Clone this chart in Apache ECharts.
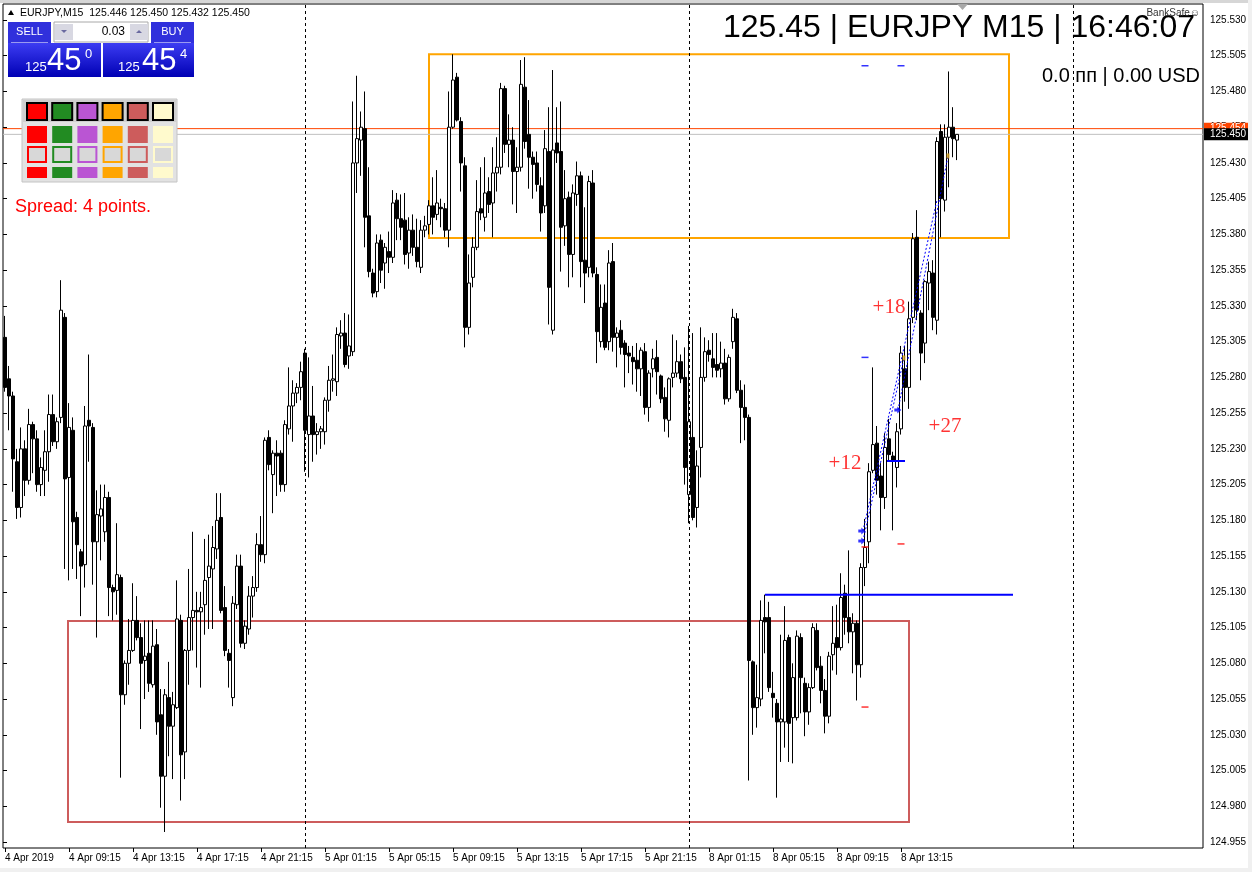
<!DOCTYPE html>
<html>
<head>
<meta charset="utf-8">
<script src="https://cdn.jsdelivr.net/npm/echarts@6/dist/echarts.min.js"></script>
<style>
  html, body { margin: 0; padding: 0; background: #fff; }
  #chart { width: 1252px; height: 872px; }
</style>
</head>
<body>
<div id="chart"></div>
<script>
// EURJPY M15, 4 Apr 05:15 .. 8 Apr 16:45 (239 bars), 10 values per row
const openP = [
  125.308,125.279,125.267,125.221,125.189,125.230,125.208,125.247,125.237,125.205,
  125.215,125.228,125.254,125.235,125.252,125.322,125.210,125.243,125.182,125.158,
  125.149,125.250,125.245,125.165,125.183,125.172,125.196,125.133,125.131,125.140,
  125.058,125.080,125.089,125.110,125.098,125.082,125.087,125.065,125.093,125.044,
  125.001,125.056,125.036,125.049,125.110,125.018,125.089,125.112,125.117,125.116,
  125.121,125.140,125.146,125.160,125.182,125.119,125.087,125.056,125.121,125.148,
  125.094,125.104,125.127,125.133,125.163,125.156,125.238,125.212,125.227,125.227,
  125.205,125.244,125.260,125.269,125.273,125.297,125.240,125.253,125.240,125.242,
  125.242,125.264,125.278,125.277,125.309,125.311,125.295,125.298,125.430,125.446,
  125.454,125.393,125.353,125.340,125.376,125.360,125.368,125.364,125.404,125.391,
  125.390,125.367,125.383,125.371,125.357,125.383,125.387,125.400,125.394,125.399,
  125.398,125.383,125.455,125.490,125.459,125.428,125.315,125.350,125.371,125.398,
  125.392,125.410,125.402,125.423,125.427,125.482,125.443,125.446,125.424,125.427,
  125.483,125.450,125.434,125.430,125.414,125.400,125.438,125.313,125.444,125.438,
  125.386,125.406,125.366,125.408,125.421,125.362,125.357,125.416,125.352,125.305,
  125.332,125.305,125.361,125.308,125.313,125.304,125.297,125.294,125.292,125.286,
  125.298,125.259,125.286,125.294,125.281,125.266,125.250,125.280,125.283,125.291,
  125.280,125.198,125.238,125.189,125.231,125.280,125.299,125.293,125.289,125.286,
  125.290,125.265,125.305,125.321,125.271,125.259,125.252,125.081,125.049,125.055,
  125.112,125.112,125.059,125.052,125.039,125.039,125.098,125.042,125.042,125.098,
  125.066,125.046,125.063,125.103,125.078,125.061,125.043,125.086,125.098,125.091,
  125.129,125.112,125.102,125.108,125.079,125.147,125.165,125.215,125.234,125.211,
  125.196,125.237,125.225,125.217,125.244,125.286,125.273,125.322,125.378,125.325,
  125.304,125.346,125.353,125.320,125.452,125.404,125.448,125.455,125.446
];
const highP = [
  125.323,125.288,125.270,125.230,125.245,125.236,125.258,125.249,125.243,125.224,
  125.243,125.268,125.268,125.252,125.348,125.325,125.262,125.252,125.186,125.160,
  125.260,125.296,125.248,125.201,125.205,125.205,125.200,125.135,125.178,125.142,
  125.082,125.111,125.136,125.127,125.108,125.110,125.110,125.110,125.104,125.062,
  125.062,125.081,125.060,125.138,125.114,125.090,125.146,125.172,125.130,125.130,
  125.167,125.170,125.176,125.199,125.199,125.134,125.090,125.127,125.156,125.156,
  125.110,125.134,125.141,125.171,125.183,125.238,125.243,125.229,125.236,125.229,
  125.250,125.287,125.278,125.276,125.291,125.300,125.294,125.274,125.248,125.246,
  125.266,125.288,125.296,125.315,125.320,125.325,125.324,125.473,125.491,125.466,
  125.480,125.427,125.356,125.380,125.380,125.374,125.382,125.411,125.409,125.408,
  125.409,125.392,125.394,125.391,125.390,125.393,125.404,125.420,125.425,125.405,
  125.402,125.480,125.506,125.493,125.462,125.434,125.366,125.378,125.418,125.427,
  125.434,125.420,125.441,125.448,125.486,125.484,125.464,125.455,125.441,125.502,
  125.504,125.474,125.438,125.438,125.420,125.453,125.469,125.495,125.469,125.473,
  125.425,125.410,125.415,125.431,125.424,125.399,125.421,125.425,125.357,125.345,
  125.345,125.369,125.374,125.315,125.320,125.306,125.302,125.302,125.304,125.301,
  125.304,125.285,125.300,125.306,125.282,125.273,125.280,125.310,125.306,125.296,
  125.301,125.316,125.311,125.229,125.315,125.308,125.306,125.311,125.311,125.305,
  125.300,125.296,125.328,125.325,125.278,125.275,125.254,125.082,125.079,125.124,
  125.128,125.123,125.074,125.055,125.100,125.120,125.100,125.080,125.103,125.101,
  125.070,125.066,125.108,125.108,125.085,125.069,125.088,125.120,125.121,125.143,
  125.135,125.159,125.115,125.110,125.150,125.181,125.220,125.287,125.246,125.220,
  125.241,125.251,125.228,125.248,125.302,125.302,125.333,125.381,125.397,125.327,
  125.348,125.361,125.362,125.448,125.457,125.457,125.494,125.469,125.450
];
const lowP = [
  125.270,125.243,125.200,125.181,125.182,125.197,125.205,125.213,125.200,125.197,
  125.197,125.207,125.232,125.230,125.248,125.146,125.138,125.146,125.139,125.113,
  125.133,125.221,125.135,125.098,125.152,125.165,125.113,125.110,125.114,125.000,
  125.051,125.065,125.088,125.096,125.034,125.055,125.060,125.063,125.030,124.979,
  124.962,125.015,124.999,125.048,124.984,124.999,125.065,125.089,125.077,125.063,
  125.100,125.104,125.104,125.153,125.115,125.085,125.063,125.050,125.118,125.091,
  125.090,125.100,125.112,125.130,125.151,125.150,125.215,125.185,125.197,125.200,
  125.200,125.240,125.235,125.262,125.264,125.214,125.210,125.221,125.226,125.230,
  125.233,125.256,125.270,125.267,125.300,125.287,125.286,125.295,125.409,125.421,
  125.371,125.350,125.336,125.336,125.346,125.342,125.353,125.360,125.376,125.376,
  125.359,125.356,125.365,125.357,125.353,125.378,125.380,125.380,125.390,125.385,
  125.378,125.371,125.454,125.459,125.410,125.301,125.310,125.343,125.369,125.390,
  125.382,125.395,125.378,125.410,125.422,125.437,125.427,125.401,125.395,125.424,
  125.440,125.412,125.405,125.410,125.382,125.395,125.317,125.310,125.430,125.354,
  125.372,125.343,125.350,125.400,125.343,125.332,125.350,125.350,125.290,125.301,
  125.299,125.299,125.298,125.287,125.296,125.273,125.283,125.275,125.270,125.267,
  125.254,125.249,125.280,125.268,125.262,125.242,125.238,125.273,125.280,125.276,
  125.205,125.178,125.180,125.175,125.210,125.277,125.291,125.280,125.280,125.280,
  125.261,125.263,125.300,125.269,125.234,125.236,124.998,125.030,125.035,125.050,
  125.087,125.060,125.042,124.986,125.011,125.021,125.011,125.010,125.040,125.045,
  125.029,125.037,125.062,125.075,125.052,125.031,125.038,125.075,125.072,125.089,
  125.100,125.094,125.073,125.054,125.070,125.134,125.150,125.213,125.198,125.173,
  125.188,125.222,125.173,125.203,125.240,125.263,125.258,125.318,125.320,125.278,
  125.290,125.327,125.313,125.310,125.378,125.396,125.413,125.434,125.432
];
const closeP = [
  125.273,125.267,125.223,125.189,125.230,125.208,125.247,125.237,125.205,125.217,
  125.228,125.254,125.235,125.249,125.327,125.209,125.245,125.179,125.163,125.148,
  125.246,125.246,125.165,125.184,125.188,125.196,125.133,125.130,125.142,125.058,
  125.080,125.089,125.110,125.098,125.080,125.085,125.066,125.092,125.039,125.001,
  125.058,125.036,125.051,125.111,125.016,125.089,125.112,125.117,125.116,125.119,
  125.138,125.148,125.161,125.180,125.117,125.089,125.082,125.122,125.148,125.094,
  125.106,125.127,125.133,125.163,125.156,125.236,125.219,125.227,125.225,125.205,
  125.247,125.260,125.269,125.273,125.284,125.243,125.253,125.240,125.242,125.244,
  125.264,125.278,125.279,125.310,125.311,125.289,125.302,125.430,125.447,125.455,
  125.392,125.354,125.339,125.374,125.355,125.371,125.364,125.402,125.391,125.385,
  125.366,125.383,125.371,125.361,125.383,125.386,125.400,125.392,125.402,125.398,
  125.383,125.455,125.488,125.460,125.430,125.315,125.346,125.371,125.396,125.395,
  125.409,125.401,125.423,125.427,125.482,125.443,125.446,125.424,125.427,125.485,
  125.445,125.434,125.429,125.415,125.395,125.440,125.343,125.439,125.437,125.385,
  125.405,125.366,125.409,125.421,125.361,125.353,125.417,125.353,125.312,125.329,
  125.301,125.360,125.308,125.311,125.301,125.296,125.295,125.291,125.286,125.299,
  125.259,125.283,125.293,125.284,125.265,125.251,125.279,125.283,125.291,125.279,
  125.217,125.249,125.182,125.218,125.280,125.298,125.296,125.287,125.285,125.290,
  125.265,125.294,125.322,125.271,125.259,125.252,125.082,125.049,125.056,125.110,
  125.109,125.063,125.056,125.039,125.041,125.096,125.038,125.070,125.099,125.070,
  125.046,125.063,125.105,125.077,125.061,125.043,125.085,125.094,125.091,125.126,
  125.112,125.102,125.108,125.079,125.147,125.161,125.214,125.233,125.208,125.196,
  125.231,125.226,125.222,125.242,125.297,125.273,125.321,125.377,125.327,125.297,
  125.347,125.354,125.322,125.445,125.405,125.448,125.455,125.447,125.450
];

// time axis: one label every 16 bars, from bar 0
const tickLabels = [
  "4 Apr 2019", "4 Apr 09:15", "4 Apr 13:15", "4 Apr 17:15", "4 Apr 21:15",
  "5 Apr 01:15", "5 Apr 05:15", "5 Apr 09:15", "5 Apr 13:15", "5 Apr 17:15",
  "5 Apr 21:15", "8 Apr 01:15", "8 Apr 05:15", "8 Apr 09:15", "8 Apr 13:15"
];
const TICK_STEP = 16;
const SLOTS = 300;               // bars incl. chart shift on the right
const daySeparators = [75, 171, 267];  // 5 Apr, 8 Apr, 9 Apr 00:00

const priceLabelMin = 124.955;   // lowest price label
const priceLabelMax = 125.530;
const priceStep = 0.025;
const askPrice = 125.454;
const bidPrice = 125.450;

// objects drawn on the chart, [bar, price]
const orangeBox = [[106, 125.506], [251, 125.3775]];
const redBox = [[15.75, 125.1096], [226, 124.969]];
const blueLevel = [[190, 125.128], [252, 125.128]];
const openLevel = [[220.5, 125.2215], [225, 125.2215]];
const blueDashes = [[215, 125.498], [224, 125.498], [215, 125.294]];
const redDashes = [[224, 125.1635], [215, 125.0494], [215, 125.1614]];
const buyArrows = [[214.2, 125.1726], [214.2, 125.1656], [223.2, 125.2572]];
const closeMarks = [[224.75, 125.2936], [235.75, 125.4349]];
const tradeLines = [
  [[214.5, 125.1726], [233, 125.4041]],
  [[214.5, 125.1656], [224.75, 125.2936]],
  [[223.25, 125.2572], [235.75, 125.4349]]
];
const profitTags = [[221, 125.3292, "+18"], [235, 125.246, "+27"], [210, 125.2201, "+12"]];

const swatches = ["#ff0000", "#228b22", "#ba55d3", "#ffa500", "#cd5c5c", "#fffacd"];

// ---- layout (pixels) ----
const PLOT = { left: 3, top: 4, width: 1200, height: 844 };
const LABEL_TOP = 20, LABEL_H = 822;            // where 125.530 .. 124.955 sit
const pxPerPrice = LABEL_H / (priceLabelMax - priceLabelMin);
const plotMax = priceLabelMax + (LABEL_TOP - PLOT.top) / pxPerPrice;
const plotMin = priceLabelMin - (PLOT.top + PLOT.height - LABEL_TOP - LABEL_H) / pxPerPrice;

const candles = openP.map((o, i) => [o, closeP[i], lowP[i], highP[i]]);
const cats = Array.from({ length: SLOTS }, (_, i) => String(i));
const showTick = (i) => i % TICK_STEP === 0 && i / TICK_STEP < tickLabels.length;

const FONT = '"Liberation Sans", Arial, sans-serif';

const chart = echarts.init(document.getElementById("chart"));

const blueGrad = () => new echarts.graphic.LinearGradient(0, 0, 0, 1, [
  { offset: 0, color: "#3c3cf2" }, { offset: 1, color: "#0000b4" }
]);

const g = [];
const txt = (text, x, y, size, fill, align) => g.push({
  type: "text", z: 100,
  style: {
    text, x, y, fill, font: size + "px " + FONT,
    textAlign: align || "left", textVerticalAlign: "middle",
    align: align || "left", verticalAlign: "middle"
  }
});
const box = (x, y, w, h, style) => g.push({ type: "rect", z: 100, shape: { x, y, width: w, height: h }, style });

// window edges
box(0, 0, 1252, 3, { fill: "#d6d6d6" });
box(1248, 0, 4, 872, { fill: "#f0f0f0" });
box(0, 868, 1252, 4, { fill: "#f0f0f0" });

// header line
g.push({ type: "polygon", z: 100, shape: { points: [[8, 15], [14, 15], [11, 10]] }, style: { fill: "#000" } });
txt("EURJPY,M15  125.446 125.450 125.432 125.450", 20, 13, 10.5, "#000");

// one-click trading panel
box(8, 22, 43, 21, { fill: "#3030dc" });
box(151, 22, 43, 21, { fill: "#3030dc" });
box(11, 42, 37, 1, { fill: "#9a9af0" });
box(154, 42, 37, 1, { fill: "#9a9af0" });
txt("SELL", 29.5, 32, 11, "#fff", "center");
txt("BUY", 172.5, 32, 11, "#fff", "center");
box(54, 22, 94, 20, { fill: "#fff", stroke: "#a8a8a8", lineWidth: 1 });
box(55, 24, 18, 16, { fill: "#d8d8e2" });
box(130, 24, 18, 16, { fill: "#d8d8e2" });
g.push({ type: "polygon", z: 100, shape: { points: [[61, 30], [67, 30], [64, 33]] }, style: { fill: "#6a6aa0" } });
g.push({ type: "polygon", z: 100, shape: { points: [[136, 33], [142, 33], [139, 30]] }, style: { fill: "#6a6aa0" } });
txt("0.03", 125, 32, 12, "#000", "right");
box(8, 43, 93, 34, { fill: blueGrad() });
box(103, 43, 91, 34, { fill: blueGrad() });
txt("125", 25, 67, 13, "#fff");
txt("45", 47, 61, 31, "#fff");
txt("0", 85, 54, 13, "#fff");
txt("125", 118, 67, 13, "#fff");
txt("45", 142, 61, 31, "#fff");
txt("4", 180, 54, 13, "#fff");

// colour palette panel
box(22, 99, 155, 83, { fill: "#e2e2e2", stroke: "#c4c4c4", lineWidth: 1 });
box(23, 100, 153, 22, { fill: "#cfcfcf" });
swatches.forEach((c, k) => {
  const x = 27 + k * 25.2;
  box(x, 103, 20, 17, { fill: c, stroke: "#000", lineWidth: 2 });
  box(x, 126, 20, 17, { fill: c });
  box(x + 1, 147, 18, 15, { fill: "#d8d8d8", stroke: c, lineWidth: 2 });
  box(x, 167, 20, 11, { fill: c });
});

txt("Spread: 4 points.", 15, 207, 18, "#ff0000");

// top-right info
txt("125.45 | EURJPY M15 | 16:46:07", 1195, 28, 32, "#000", "right");
txt("0.0 пп | 0.00 USD", 1200, 76, 20, "#000", "right");
txt("BankSafe\u263A", 1200, 13, 10, "#333", "right");
g.push({ type: "polygon", z: 100, shape: { points: [[957, 4], [968, 4], [962.5, 10]] }, style: { fill: "#a8a8a8" } });

const arrowPath = "path://M0,2L3,2L3,0L7,3.5L3,7L3,5L0,5Z";

const hLine = (price, color, z) => ({
  type: "line", xAxisIndex: 1, yAxisIndex: 0, z, silent: true,
  data: [[-0.5, price], [SLOTS - 0.5, price]], symbol: "none",
  lineStyle: { color, width: 1 }
});

const option = {
  animation: false,
  backgroundColor: "#fff",
  textStyle: { fontFamily: FONT },
  grid: [
    { left: PLOT.left, top: PLOT.top, width: PLOT.width, height: PLOT.height,
      show: true, borderColor: "#000", borderWidth: 1, backgroundColor: "transparent" },
    { left: PLOT.left, top: LABEL_TOP, width: PLOT.width, height: LABEL_H, show: false }
  ],
  xAxis: [
    {
      type: "category", gridIndex: 0, data: cats, boundaryGap: true,
      axisLine: { show: false },
      axisTick: { show: true, interval: (i) => showTick(i), alignWithLabel: true, length: 4,
        lineStyle: { color: "#000" } },
      axisLabel: { interval: (i) => showTick(i), formatter: (v, i) => tickLabels[i / TICK_STEP] || "",
        align: "left", margin: 5, fontSize: 10, color: "#000", fontFamily: FONT },
      splitLine: { show: false }
    },
    { type: "value", gridIndex: 0, min: -0.5, max: SLOTS - 0.5, show: false },
    { type: "value", gridIndex: 1, min: 0, max: 1, show: false }
  ],
  yAxis: [
    { type: "value", gridIndex: 0, min: plotMin, max: plotMax, show: false, scale: true },
    {
      type: "value", gridIndex: 1, position: "right",
      min: 0, max: +(priceLabelMax - priceLabelMin).toFixed(3), interval: priceStep,
      axisLine: { show: false },
      axisTick: { show: true, length: 4, lineStyle: { color: "#000" } },
      axisLabel: { formatter: (v) => (priceLabelMin + v).toFixed(3), margin: 7,
        fontSize: 10, color: "#000", fontFamily: FONT },
      splitLine: { show: false }
    }
  ],
  series: [
    // day separators
    {
      type: "line", xAxisIndex: 1, yAxisIndex: 0, data: [], z: 1, silent: true,
      markLine: {
        symbol: "none", silent: true,
        label: { show: false },
        lineStyle: { color: "#000", width: 1, type: [3, 3] },
        data: daySeparators.map((d) => ({ xAxis: d }))
      }
    },
    hLine(askPrice, "#ff4500", 1),
    hLine(bidPrice, "#c0c0c0", 2),
    {
      type: "candlestick", xAxisIndex: 0, yAxisIndex: 0, data: candles, z: 3,
      barWidth: 3,
      itemStyle: { color: "#fff", color0: "#000", borderColor: "#000", borderColor0: "#000",
        borderColorDoji: "#000", borderWidth: 1 }
    },
    // rectangles and the blue level
    {
      type: "line", xAxisIndex: 1, yAxisIndex: 0, data: blueLevel, z: 5, silent: true,
      symbol: "none", lineStyle: { color: "#0000ff", width: 2 },
      markArea: {
        silent: true,
        data: [
          [{ coord: orangeBox[0], itemStyle: { color: "rgba(0,0,0,0)", borderColor: "#ffa500", borderWidth: 2 } },
           { coord: orangeBox[1] }],
          [{ coord: redBox[0], itemStyle: { color: "rgba(0,0,0,0)", borderColor: "#cd5c5c", borderWidth: 2 } },
           { coord: redBox[1] }]
        ]
      }
    },
    {
      type: "line", xAxisIndex: 1, yAxisIndex: 0, data: openLevel, z: 6, silent: true,
      symbol: "none", lineStyle: { color: "#0000ff", width: 2 }
    },
    ...tradeLines.map((seg) => ({
      type: "line", xAxisIndex: 1, yAxisIndex: 0, data: seg, z: 6, silent: true,
      symbol: "none", lineStyle: { color: "#0000ff", width: 1, type: [2, 2] }
    })),
    {
      type: "scatter", xAxisIndex: 1, yAxisIndex: 0, data: blueDashes, z: 6, silent: true,
      symbol: "rect", symbolSize: [7, 1.5], itemStyle: { color: "#0000ff" }
    },
    {
      type: "scatter", xAxisIndex: 1, yAxisIndex: 0, data: redDashes, z: 6, silent: true,
      symbol: "rect", symbolSize: [7, 1.5], itemStyle: { color: "#ff0000" }
    },
    {
      type: "scatter", xAxisIndex: 1, yAxisIndex: 0, data: buyArrows, z: 7, silent: true,
      symbol: arrowPath, symbolSize: [7, 7], itemStyle: { color: "#0000ff" }
    },
    {
      type: "scatter", xAxisIndex: 1, yAxisIndex: 0, data: closeMarks, z: 7, silent: true,
      symbol: "rect", symbolSize: [3, 5], itemStyle: { color: "#daa520" }
    },
    {
      type: "scatter", xAxisIndex: 1, yAxisIndex: 0, z: 8, silent: true, symbolSize: 0,
      data: profitTags.map((t) => ({ value: [t[0], t[1]], label: { formatter: t[2] } })),
      label: { show: true, position: "inside", color: "#ff0000", fontSize: 21,
        fontFamily: '"Liberation Serif", "Times New Roman", serif' }
    }
  ]
};

chart.setOption(option);

// ask / bid tags on the price scale, placed through the price axis
const tag = (price, bg) => {
  const y = chart.convertToPixel({ yAxisIndex: 0 }, price);
  box(PLOT.left + PLOT.width + 1, y - 6, 44, 12, { fill: bg });
  txt(price.toFixed(3), PLOT.left + PLOT.width + 7, y, 10, "#fff");
};
tag(askPrice, "#ff4500");
tag(bidPrice, "#000");
chart.setOption({ graphic: g });
</script>
</body>
</html>
